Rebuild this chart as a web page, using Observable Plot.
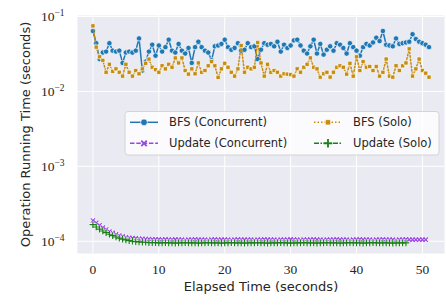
<!DOCTYPE html>
<html><head><meta charset="utf-8">
<script src="https://cdn.jsdelivr.net/npm/d3@7"></script>
<script src="https://cdn.jsdelivr.net/npm/@observablehq/plot@0.6"></script>
<style>body{margin:0;background:#fff}</style>
</head><body><div id="chart"></div>
<script>
// ---- data ----
const seriesNames = ["BFS (Concurrent)", "BFS (Solo)", "Update (Concurrent)", "Update (Solo)"];
const xTicks = [0, 10, 20, 30, 40, 50];
const yTicks = [1e-4, 1e-3, 1e-2, 1e-1];

const time = [
  0,0.5,1,1.5,2,2.5,3,3.5,4,4.5,
  5,5.5,6,6.5,7,7.5,8,8.5,9,9.5,
  10,10.5,11,11.5,12,12.5,13,13.5,14,14.5,
  15,15.5,16,16.5,17,17.5,18,18.5,19,19.5,
  20,20.5,21,21.5,22,22.5,23,23.5,24,24.5,
  25,25.5,26,26.5,27,27.5,28,28.5,29,29.5,
  30,30.5,31,31.5,32,32.5,33,33.5,34,34.5,
  35,35.5,36,36.5,37,37.5,38,38.5,39,39.5,
  40,40.5,41,41.5,42,42.5,43,43.5,44,44.5,
  45,45.5,46,46.5,47,47.5,48,48.5,49,49.5,
  50,50.5,51
];

const bfsConcurrent = [
  0.064,0.044,0.027,0.033,0.034,0.044,0.035,0.034,0.035,0.024,
  0.033,0.034,0.033,0.035,0.051,0.019,0.025,0.034,0.042,0.030,
  0.041,0.034,0.039,0.049,0.035,0.033,0.043,0.035,0.032,0.038,
  0.024,0.039,0.046,0.039,0.035,0.033,0.026,0.040,0.041,0.043,
  0.049,0.039,0.036,0.038,0.044,0.035,0.036,0.044,0.039,0.040,
  0.027,0.036,0.044,0.042,0.043,0.040,0.046,0.034,0.042,0.038,
  0.041,0.048,0.049,0.041,0.035,0.032,0.040,0.049,0.032,0.043,
  0.031,0.036,0.040,0.035,0.044,0.042,0.038,0.032,0.044,0.039,
  0.035,0.030,0.039,0.043,0.041,0.045,0.052,0.047,0.064,0.042,
  0.041,0.040,0.051,0.043,0.044,0.045,0.046,0.058,0.050,0.046,
  0.044,0.042,0.039
];

const bfsSolo = [
  0.075,0.039,0.029,0.026,0.018,0.023,0.0185,0.020,0.018,0.016,
  0.023,0.018,0.016,0.019,0.0172,0.020,0.0237,0.027,0.021,0.0195,
  0.018,0.022,0.020,0.023,0.021,0.028,0.024,0.028,0.019,0.017,
  0.020,0.0172,0.024,0.018,0.019,0.022,0.025,0.022,0.0154,0.020,
  0.0237,0.021,0.018,0.016,0.020,0.041,0.018,0.021,0.020,0.021,
  0.045,0.024,0.016,0.023,0.018,0.019,0.018,0.016,0.0172,0.017,
  0.0168,0.016,0.020,0.018,0.021,0.023,0.028,0.021,0.020,0.0155,
  0.0172,0.018,0.0155,0.018,0.021,0.022,0.021,0.017,0.0237,0.016,
  0.029,0.019,0.025,0.021,0.0215,0.019,0.0215,0.016,0.018,0.027,
  0.016,0.0155,0.022,0.019,0.022,0.024,0.037,0.016,0.020,0.027,
  0.019,0.0175,0.0155
];

const updateConcurrent = [
  1.89e-4,1.76e-4,1.63e-4,1.52e-4,1.43e-4,1.35e-4,1.29e-4,1.24e-4,1.19e-4,1.16e-4,
  1.13e-4,1.11e-4,1.10e-4,1.09e-4,1.08e-4,1.08e-4,1.07e-4,1.07e-4,1.06e-4,1.06e-4,
  1.06e-4,1.05e-4,1.06e-4,1.05e-4,1.05e-4,1.06e-4,1.05e-4,1.05e-4,1.04e-4,1.05e-4,
  1.05e-4,1.06e-4,1.05e-4,1.05e-4,1.05e-4,1.04e-4,1.05e-4,1.06e-4,1.05e-4,1.05e-4,
  1.05e-4,1.05e-4,1.04e-4,1.05e-4,1.06e-4,1.05e-4,1.05e-4,1.05e-4,1.05e-4,1.04e-4,
  1.05e-4,1.05e-4,1.06e-4,1.05e-4,1.05e-4,1.05e-4,1.04e-4,1.05e-4,1.05e-4,1.05e-4,
  1.06e-4,1.05e-4,1.05e-4,1.04e-4,1.05e-4,1.05e-4,1.05e-4,1.06e-4,1.05e-4,1.05e-4,
  1.04e-4,1.05e-4,1.05e-4,1.05e-4,1.06e-4,1.05e-4,1.05e-4,1.05e-4,1.04e-4,1.05e-4,
  1.05e-4,1.06e-4,1.05e-4,1.05e-4,1.05e-4,1.04e-4,1.05e-4,1.05e-4,1.06e-4,1.05e-4,
  1.05e-4,1.05e-4,1.04e-4,1.05e-4,1.05e-4,1.06e-4,1.05e-4,1.05e-4,1.05e-4,1.05e-4,
  1.05e-4,1.05e-4
];

const updateSolo = [
  1.67e-4,1.55e-4,1.45e-4,1.37e-4,1.30e-4,1.24e-4,1.19e-4,1.14e-4,1.10e-4,1.07e-4,
  1.04e-4,1.02e-4,1.00e-4,0.99e-4,0.98e-4,0.97e-4,0.97e-4,0.96e-4,0.96e-4,0.96e-4,
  0.95e-4,0.95e-4,0.96e-4,0.95e-4,0.95e-4,0.94e-4,0.95e-4,0.95e-4,0.96e-4,0.95e-4,
  0.95e-4,0.95e-4,0.94e-4,0.95e-4,0.95e-4,0.96e-4,0.95e-4,0.95e-4,0.95e-4,0.94e-4,
  0.95e-4,0.95e-4,0.96e-4,0.95e-4,0.95e-4,0.95e-4,0.94e-4,0.95e-4,0.95e-4,0.95e-4,
  0.96e-4,0.95e-4,0.95e-4,0.94e-4,0.95e-4,0.95e-4,0.95e-4,0.96e-4,0.95e-4,0.95e-4,
  0.94e-4,0.95e-4,0.95e-4,0.95e-4,0.96e-4,0.95e-4,0.95e-4,0.95e-4,0.94e-4,0.95e-4,
  0.95e-4,0.96e-4,0.95e-4,0.95e-4,0.95e-4,0.94e-4,0.95e-4,0.95e-4,0.96e-4,0.95e-4,
  0.95e-4,0.95e-4,0.94e-4,0.95e-4,0.95e-4,0.96e-4,0.95e-4,0.95e-4,0.95e-4,0.95e-4,
  0.95e-4,0.94e-4,0.95e-4,0.95e-4,0.95e-4,0.95e-4
];

// ---- styles ----
const styles = [
  {color: "#1f77b4", dash: null,            symbol: "circle", r: 2.7, filled: true},
  {color: "#c68c0e", dash: "1.5,2",         symbol: "square", r: 2.4, filled: true},
  {color: "#9b45e4", dash: "4.5,1.8",       symbol: "times",  r: 2.1, filled: false},
  {color: "#1a7f1a", dash: "5,1.5,1.5,1.5", symbol: "plus",   r: 2.3, filled: false}
];
const seriesValues = [bfsConcurrent, bfsSolo, updateConcurrent, updateSolo];

const rows = seriesValues.map((vals, s) => vals.map((v, i) => ({s, t: time[i], v})));

const marks = [
  Plot.frame({fill: "#eaeaf2", stroke: null}),
  Plot.ruleX(xTicks, {stroke: "white", strokeWidth: 1}),
  Plot.ruleY(yTicks, {stroke: "white", strokeWidth: 1})
];
rows.forEach((data, s) => {
  const st = styles[s];
  marks.push(Plot.line(data, {x: "t", y: "v", stroke: st.color, strokeWidth: 1.5,
    strokeDasharray: st.dash || undefined}));
  if (st.filled) {
    marks.push(Plot.dot(data, {x: "t", y: "v", symbol: st.symbol, r: st.r, fill: st.color,
      stroke: "white", strokeWidth: 0.7}));
  } else {
    marks.push(Plot.dot(data, {x: "t", y: "v", symbol: st.symbol, r: st.r, stroke: "white",
      strokeWidth: 2.4}));
    marks.push(Plot.dot(data, {x: "t", y: "v", symbol: st.symbol, r: st.r, stroke: st.color,
      strokeWidth: 1.2}));
  }
});
marks.push(Plot.text(["Elapsed Time (seconds)"], {frameAnchor: "bottom", dy: 37, text: d => d,
  textAnchor: "middle", fontFamily: "DejaVu Sans", fontSize: 13, fill: "#262626"}));
marks.push(Plot.text(["Operation Running Time (seconds)"], {frameAnchor: "left", dx: -52, rotate: -90,
  textAnchor: "middle", text: d => d, fontFamily: "DejaVu Sans", fontSize: 13, fill: "#262626"}));

const chart = Plot.plot({
  width: 446, height: 305,
  marginLeft: 77, marginRight: 2, marginTop: 15, marginBottom: 52,
  style: {background: "white", color: "#262626", fontFamily: "Liberation Serif", fontSize: "13.5px"},
  x: {domain: [-2.34, 53.35], ticks: xTicks, tickSize: 0, tickPadding: 11, label: null},
  y: {type: "log", domain: [6.86e-5, 0.1031], ticks: yTicks, tickSize: 0, tickPadding: 13,
      tickFormat: d => "10^" + Math.round(Math.log10(d)), label: null},
  marks
});
document.getElementById("chart").appendChild(chart);

// superscript exponents on log tick labels
const ns = "http://www.w3.org/2000/svg";
chart.querySelectorAll("text").forEach(t => {
  const m = /^10\^(.+)$/.exec(t.textContent);
  if (!m) return;
  t.textContent = "";
  const a = document.createElementNS(ns, "tspan"); a.textContent = "10"; t.appendChild(a);
  const b = document.createElementNS(ns, "tspan");
  b.setAttribute("dy", "-0.5em"); b.setAttribute("font-size", "9.5px");
  b.textContent = m[1].replace("-", "\u2212"); t.appendChild(b);
});

// legend
const svg = d3.select(chart);
const lg = svg.append("g");
lg.append("rect").attr("x", 125).attr("y", 111.5).attr("width", 314).attr("height", 43.5)
  .attr("rx", 3).attr("fill", "white").attr("fill-opacity", 0.8)
  .attr("stroke", "#cccccc").attr("stroke-width", 0.8);
const pos = [[130, 122.3], [314, 122.3], [130, 143.3], [314, 143.3]];
const typeMap = {circle: d3.symbolCircle, square: d3.symbolSquare, times: d3.symbolTimes, plus: d3.symbolPlus};
[0, 1, 2, 3].forEach((s, k) => {
  const st = styles[s]; const [x0, y0] = pos[k];
  lg.append("line").attr("x1", x0).attr("x2", x0 + 28).attr("y1", y0).attr("y2", y0)
    .attr("stroke", st.color).attr("stroke-width", 1.5)
    .attr("stroke-dasharray", st.dash);
  const rr = st.r * 1.25;
  const path = d3.symbol(typeMap[st.symbol], rr * rr * Math.PI)();
  if (st.filled) {
    lg.append("path").attr("d", path).attr("transform", `translate(${x0 + 14},${y0})`)
      .attr("fill", st.color).attr("stroke", "white").attr("stroke-width", 0.7);
  } else {
    lg.append("path").attr("d", path).attr("transform", `translate(${x0 + 14},${y0})`)
      .attr("fill", "none").attr("stroke", st.color).attr("stroke-width", 1.8);
  }
  lg.append("text").attr("x", x0 + 39).attr("y", y0).attr("dy", "0.35em")
    .attr("text-anchor", "start")
    .attr("font-family", "DejaVu Sans").attr("font-size", 11.5).attr("fill", "#262626")
    .text(seriesNames[s]);
});
</script></body></html>
